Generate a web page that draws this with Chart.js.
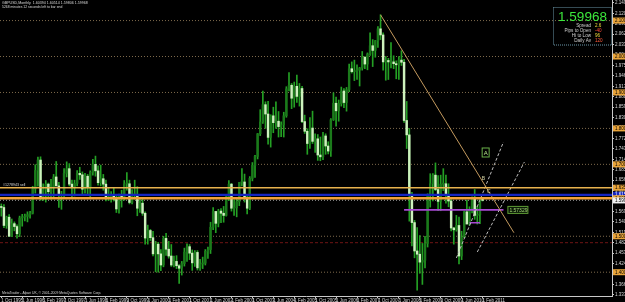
<!DOCTYPE html>
<html>
<head>
<meta charset="utf-8">
<script src="https://cdn.jsdelivr.net/npm/chart.js@4.4.1/dist/chart.umd.min.js"></script>
<style>
  html, body { margin: 0; padding: 0; background: #000; overflow: hidden; }
  canvas { display: block; }
</style>
</head>
<body>
<canvas id="chart" width="625" height="302"></canvas>
<script>
"use strict";

// GBPUSD monthly, Oct 1995 .. Feb 2011
const opens = [
  1.5810, 1.5800, 1.5300,
  1.5530, 1.5000, 1.5350, 1.5270, 1.5070, 1.5510, 1.5530, 1.5550, 1.5600, 1.5640, 1.6320, 1.6830,
  1.7120, 1.6100, 1.6300, 1.6450, 1.6240, 1.6380, 1.6650, 1.6400, 1.6130, 1.6150, 1.6750, 1.6880,
  1.6450, 1.6370, 1.6470, 1.6750, 1.6710, 1.6310, 1.6670, 1.6370, 1.6780, 1.7000, 1.6820, 1.6490,
  1.6600, 1.6450, 1.6040, 1.6100, 1.6110, 1.6030, 1.5760, 1.6150, 1.6080, 1.6460, 1.6460, 1.5940,
  1.6150, 1.6160, 1.5780, 1.5920, 1.5640, 1.4950, 1.5160, 1.4960, 1.4510, 1.4780, 1.4510, 1.4200,
  1.4940, 1.4640, 1.4450, 1.4200, 1.4300, 1.4180, 1.4110, 1.4240, 1.4560, 1.4710, 1.4530, 1.4260,
  1.4550, 1.4120, 1.4230, 1.4250, 1.4580, 1.4630, 1.5250, 1.5690, 1.5360, 1.5700, 1.5640, 1.5580,
  1.6100, 1.6450, 1.5780, 1.5790, 1.5960, 1.6500, 1.6510, 1.6070, 1.5780, 1.6610, 1.6970, 1.7220,
  1.7850, 1.8180, 1.8660, 1.8400, 1.7750, 1.8350, 1.8160, 1.8200, 1.8050, 1.8100, 1.8350, 1.9100,
  1.9200, 1.8840, 1.9170, 1.8890, 1.9110, 1.8190, 1.7920, 1.7580, 1.8010, 1.7640, 1.7710, 1.7260,
  1.7210, 1.7790, 1.7510, 1.7370, 1.8240, 1.8700, 1.8490, 1.8690, 1.9040, 1.8720, 1.9080, 1.9660,
  1.9580, 1.9600, 1.9620, 1.9680, 1.9980, 1.9790, 2.0070, 2.0300, 2.0170, 2.0440, 2.0770, 2.0600,
  1.9850, 1.9890, 1.9850, 1.9850, 1.9800, 1.9770, 1.9900, 1.9840, 1.8220, 1.7820, 1.6150, 1.5380,
  1.4590, 1.4500, 1.4280, 1.4330, 1.4800, 1.6150, 1.6460, 1.6700, 1.6300, 1.5970, 1.6450, 1.6460,
  1.6150, 1.5980, 1.5230, 1.5180, 1.5300, 1.4450, 1.4960, 1.5680, 1.5340, 1.5730, 1.6030, 1.5580,
  1.5600, 1.60394,
];

const highs = [
  1.5900, 1.5880, 1.5560,
  1.5600, 1.5480, 1.5400, 1.5320, 1.5560, 1.5610, 1.5620, 1.5680, 1.5690, 1.6390, 1.6990, 1.7200,
  1.7210, 1.6460, 1.6550, 1.6480, 1.6580, 1.6720, 1.7080, 1.6500, 1.6250, 1.6880, 1.7070, 1.7020,
  1.6560, 1.6560, 1.6830, 1.6920, 1.6790, 1.6750, 1.6720, 1.6820, 1.7140, 1.7230, 1.6960, 1.6980,
  1.6720, 1.6560, 1.6350, 1.6240, 1.6340, 1.6160, 1.6170, 1.6280, 1.6550, 1.6770, 1.6560, 1.6300,
  1.6560, 1.6380, 1.6030, 1.6080, 1.5680, 1.5310, 1.5190, 1.5140, 1.4860, 1.4830, 1.4630, 1.5000,
  1.5080, 1.4860, 1.4770, 1.4450, 1.4460, 1.4210, 1.4300, 1.4670, 1.4790, 1.4770, 1.4620, 1.4600,
  1.4600, 1.4360, 1.4420, 1.4630, 1.4700, 1.5390, 1.5800, 1.5690, 1.5750, 1.5770, 1.5830, 1.6130,
  1.6550, 1.6470, 1.6010, 1.6030, 1.6500, 1.6880, 1.6730, 1.6130, 1.6660, 1.7050, 1.7250, 1.7860,
  1.8520, 1.9040, 1.8740, 1.8750, 1.8380, 1.8590, 1.8740, 1.8470, 1.8180, 1.8450, 1.9160, 1.9550,
  1.9250, 1.9290, 1.9480, 1.9250, 1.9170, 1.8370, 1.7990, 1.8300, 1.8480, 1.7850, 1.7830, 1.7760,
  1.7890, 1.7850, 1.7630, 1.8270, 1.8990, 1.8870, 1.8790, 1.9150, 1.9110, 1.9140, 1.9790, 1.9850,
  1.9900, 1.9770, 1.9700, 2.0140, 2.0000, 2.0100, 2.0660, 2.0470, 2.0450, 2.0830, 2.1160, 2.0660,
  2.0000, 1.9950, 2.0390, 2.0020, 1.9880, 2.0000, 2.0160, 1.9920, 1.8750, 1.8000, 1.6220, 1.5440,
  1.5240, 1.5020, 1.4800, 1.5000, 1.6180, 1.6740, 1.6740, 1.7040, 1.6690, 1.6700, 1.6880, 1.6700,
  1.6460, 1.6020, 1.5250, 1.5580, 1.5530, 1.5140, 1.5700, 1.6000, 1.5820, 1.6100, 1.6300, 1.5820,
  1.6060, 1.60514,
];

const lows = [
  1.5560, 1.5240, 1.5220,
  1.4990, 1.4990, 1.5150, 1.4950, 1.4990, 1.5280, 1.5430, 1.5400, 1.5500, 1.5620, 1.6200, 1.6390,
  1.6000, 1.6000, 1.5950, 1.6050, 1.6030, 1.6100, 1.6400, 1.5800, 1.5750, 1.6050, 1.6650, 1.6400,
  1.6080, 1.6120, 1.6400, 1.6580, 1.6150, 1.6200, 1.6180, 1.6050, 1.6700, 1.6670, 1.6420, 1.6400,
  1.6280, 1.5980, 1.5990, 1.5950, 1.5980, 1.5660, 1.5640, 1.5810, 1.6000, 1.6280, 1.5900, 1.5900,
  1.6030, 1.5570, 1.5660, 1.5580, 1.4780, 1.4780, 1.4880, 1.4450, 1.4010, 1.4000, 1.4040, 1.4150,
  1.4470, 1.4390, 1.4160, 1.4150, 1.4100, 1.3690, 1.3920, 1.4170, 1.4300, 1.4350, 1.4050, 1.4160,
  1.4060, 1.4050, 1.4100, 1.4200, 1.4380, 1.4520, 1.5180, 1.5100, 1.5260, 1.5380, 1.5390, 1.5560,
  1.5990, 1.5700, 1.5580, 1.5540, 1.5850, 1.6400, 1.5950, 1.5620, 1.5740, 1.6540, 1.6640, 1.7150,
  1.7800, 1.8140, 1.8000, 1.7560, 1.7480, 1.7880, 1.8000, 1.7760, 1.7770, 1.7760, 1.8310, 1.9040,
  1.8550, 1.8590, 1.8720, 1.8620, 1.8160, 1.7860, 1.7280, 1.7440, 1.7580, 1.7330, 1.7110, 1.7100,
  1.7130, 1.7280, 1.7290, 1.7220, 1.8220, 1.8060, 1.8200, 1.8620, 1.8580, 1.8480, 1.9020, 1.9540,
  1.9330, 1.9360, 1.9180, 1.9620, 1.9660, 1.9630, 2.0030, 1.9720, 1.9980, 2.0250, 2.0470, 1.9620,
  1.9340, 1.9360, 1.9680, 1.9660, 1.9380, 1.9360, 1.9750, 1.8170, 1.7440, 1.5420, 1.4730, 1.4400,
  1.3500, 1.3970, 1.3660, 1.4120, 1.4700, 1.5810, 1.5980, 1.6270, 1.5710, 1.5710, 1.6270, 1.5920,
  1.5820, 1.5150, 1.4780, 1.5140, 1.4230, 1.4350, 1.4960, 1.5340, 1.5300, 1.5650, 1.5470, 1.5340,
  1.5350, 1.59806,
];

const closes = [
  1.5800, 1.5300, 1.5530,
  1.5000, 1.5350, 1.5270, 1.5070, 1.5510, 1.5530, 1.5550, 1.5600, 1.5640, 1.6320, 1.6830, 1.7120,
  1.6100, 1.6300, 1.6450, 1.6240, 1.6380, 1.6650, 1.6400, 1.6130, 1.6150, 1.6750, 1.6880, 1.6450,
  1.6370, 1.6470, 1.6750, 1.6710, 1.6310, 1.6670, 1.6370, 1.6780, 1.7000, 1.6820, 1.6490, 1.6600,
  1.6450, 1.6040, 1.6100, 1.6110, 1.6030, 1.5760, 1.6150, 1.6080, 1.6460, 1.6460, 1.5940, 1.6150,
  1.6160, 1.5780, 1.5920, 1.5640, 1.4950, 1.5160, 1.4960, 1.4510, 1.4780, 1.4510, 1.4200, 1.4940,
  1.4640, 1.4450, 1.4200, 1.4300, 1.4180, 1.4110, 1.4240, 1.4560, 1.4710, 1.4530, 1.4260, 1.4550,
  1.4120, 1.4230, 1.4250, 1.4580, 1.4630, 1.5250, 1.5690, 1.5360, 1.5700, 1.5640, 1.5580, 1.6100,
  1.6450, 1.5780, 1.5790, 1.5960, 1.6500, 1.6510, 1.6070, 1.5780, 1.6610, 1.6970, 1.7220, 1.7850,
  1.8180, 1.8660, 1.8400, 1.7750, 1.8350, 1.8160, 1.8200, 1.8050, 1.8100, 1.8350, 1.9100, 1.9200,
  1.8840, 1.9170, 1.8890, 1.9110, 1.8190, 1.7920, 1.7580, 1.8010, 1.7640, 1.7710, 1.7260, 1.7210,
  1.7790, 1.7510, 1.7370, 1.8240, 1.8700, 1.8490, 1.8690, 1.9040, 1.8720, 1.9080, 1.9660, 1.9580,
  1.9600, 1.9620, 1.9680, 1.9980, 1.9790, 2.0070, 2.0300, 2.0170, 2.0440, 2.0770, 2.0600, 1.9850,
  1.9890, 1.9850, 1.9850, 1.9800, 1.9770, 1.9900, 1.9840, 1.8220, 1.7820, 1.6150, 1.5380, 1.4590,
  1.4500, 1.4280, 1.4330, 1.4800, 1.6150, 1.6460, 1.6700, 1.6300, 1.5970, 1.6450, 1.6460, 1.6150,
  1.5980, 1.5230, 1.5180, 1.5300, 1.4450, 1.4960, 1.5680, 1.5340, 1.5730, 1.6030, 1.5580, 1.5600,
  1.6025, 1.59968,
];

// right price axis tick labels
const priceTicks = [
  2.1490, 2.1200, 2.0910, 2.0620, 2.0330, 2.0040, 1.9750, 1.9460, 1.9170, 1.8880,
  1.8590, 1.8300, 1.8010, 1.7720, 1.7430, 1.7140, 1.6850, 1.6560, 1.6270, 1.5980,
  1.5690, 1.5400, 1.5110, 1.4820, 1.4530, 1.4240, 1.3950, 1.3660, 1.3370,
];

const dateTickLabels = [
  "1 Oct 1995", "1 Jun 1996", "1 Feb 1997", "1 Oct 1997", "1 Jun 1998", "1 Feb 1999",
  "1 Oct 1999", "1 Jun 2000", "1 Feb 2001", "1 Oct 2001", "1 Jun 2002", "1 Feb 2003",
  "1 Oct 2003", "1 Jun 2004", "1 Feb 2005", "1 Oct 2005", "1 Jun 2006", "1 Feb 2007",
  "1 Oct 2007", "1 Jun 2008", "1 Feb 2009", "1 Oct 2009", "1 Jun 2010", "1 Feb 2011",
];

// horizontal objects
const gridLevels = [2.1, 2.0, 1.9, 1.8, 1.7, 1.6, 1.5, 1.4];
const orderLevels = [1.6350, 1.6153, 1.6058];
const redLevel = 1.4821;
const currentPrice = 1.59968;

// drawn lines: [month, price] pairs
const trendLine = [["Nov 2007", 2.1160], ["Feb 2012", 1.5099]];
const channelUpper = [["Apr 2010", 1.4395], ["Oct 2011", 1.7622]];
const channelLower = [["Dec 2010", 1.4562], ["Jun 2012", 1.7065]];
const purpleLine = [["Aug 2008", 1.57329], ["Oct 2011", 1.57329]];
const purpleShort = [["Sep 2010", 1.5377], ["Jan 2011", 1.5377]];

const infoRows = [["Spread", "2.6"], ["Pips to Open", "-40"], ["Hi to Low", "96"], ["Daily Av", "120"]];

const MONTH_NAMES = ["Jan", "Feb", "Mar", "Apr", "May", "Jun", "Jul", "Aug", "Sep", "Oct", "Nov", "Dec"];
const SLOTS = 234;
const months = [];
for (let k = 0; k < SLOTS; k++) {
  const m = 9 + k;
  months.push(`${MONTH_NAMES[m % 12]} ${1995 + Math.floor(m / 12)}`);
}

const isBull = (i) => closes[i] >= opens[i];
const toPoints = (pairs) => pairs.map(([x, y]) => ({ x, y }));

function lineDataset(pairs, color, width, dash) {
  return {
    type: "line",
    data: toPoints(pairs),
    borderColor: color,
    borderWidth: width,
    borderDash: dash || [],
    pointRadius: 0,
    tension: 0,
    order: 0,
  };
}

function hline(ctx, area, y, color, width, dash) {
  ctx.save();
  ctx.strokeStyle = color;
  ctx.lineWidth = width;
  ctx.setLineDash(dash || []);
  ctx.beginPath();
  ctx.moveTo(area.left, y);
  ctx.lineTo(area.right, y);
  ctx.stroke();
  ctx.restore();
}

function axisTag(ctx, x, y, text, bg, fg) {
  ctx.fillStyle = bg;
  ctx.fillRect(x, y - 3, 20, 6);
  ctx.fillStyle = fg;
  ctx.font = "4.5px 'Liberation Sans'";
  ctx.textAlign = "left";
  ctx.textBaseline = "middle";
  ctx.fillText(text, x + 2, y + 0.3);
}

const overlay = {
  id: "overlay",
  beforeDraw(chart) {
    const { ctx, width, height } = chart;
    ctx.save();
    ctx.fillStyle = "#000";
    ctx.fillRect(0, 0, width, height);
    ctx.restore();
  },
  beforeDatasetsDraw(chart) {
    const { ctx, chartArea, scales } = chart;
    for (const level of gridLevels) {
      const color = level === 1.6 ? "#9a9a9a" : "#7e6a4c";
      hline(ctx, chartArea, scales.y.getPixelForValue(level), color, 1, [1, 2]);
    }
    hline(ctx, chartArea, scales.y.getPixelForValue(redLevel), "#6e1414", 1, [3, 2]);
  },
  afterDatasetsDraw(chart) {
    const { ctx, chartArea, scales } = chart;
    const styles = [["#e8b24e", 1.4], ["#1424c0", 2.3], ["#f2a23a", 2.6]];
    orderLevels.forEach((level, i) => {
      hline(ctx, chartArea, scales.y.getPixelForValue(level), styles[i][0], styles[i][1]);
    });
  },
  afterDraw(chart) {
    const { ctx, chartArea, scales } = chart;
    const x = scales.x;
    const y = scales.y;
    const axisX = chartArea.right + 1;
    ctx.save();

    // price tags on the right axis
    for (const level of gridLevels) {
      if (level === 1.6) continue;
      axisTag(ctx, axisX, y.getPixelForValue(level), level.toFixed(5), "#e9a43a", "#000");
    }
    axisTag(ctx, axisX, y.getPixelForValue(orderLevels[0]), orderLevels[0].toFixed(5), "#e9a43a", "#000");
    axisTag(ctx, axisX, y.getPixelForValue(orderLevels[1]), orderLevels[1].toFixed(5), "#1424c0", "#fff");
    axisTag(ctx, axisX, y.getPixelForValue(orderLevels[2]), orderLevels[2].toFixed(5), "#e9a43a", "#000");
    axisTag(ctx, axisX, y.getPixelForValue(currentPrice), currentPrice.toFixed(5), "#f0f0f0", "#000");

    // header / footer texts
    ctx.fillStyle = "#d8d8d8";
    ctx.textAlign = "left";
    ctx.textBaseline = "alphabetic";
    ctx.font = "3.6px 'Liberation Sans'";
    ctx.fillText("GBPUSD,Monthly  1.60394 1.60514 1.59806 1.59968", 2, 4.4);
    ctx.font = "3.4px 'Liberation Sans'";
    ctx.fillText("5268 minutes 12 seconds left to bar end", 2, 8);
    ctx.fillText("MetaTrader - Alpari UK, \u00a9 2001-2009 MetaQuotes Software Corp.", 2, 294.3);
    ctx.font = "3.6px 'Liberation Sans'";
    ctx.fillText("#1278943 sell", 3, y.getPixelForValue(orderLevels[0]) - 1.5);

    // purple level tag
    const py = y.getPixelForValue(purpleLine[0][1]);
    const px = x.getPixelForValue(months.indexOf("Dec 2011")) - 1.3;
    ctx.fillStyle = "#0a1a06";
    ctx.fillRect(px, py - 3.5, 20, 7);
    ctx.strokeStyle = "#5e9c34";
    ctx.lineWidth = 1;
    ctx.strokeRect(px + 0.5, py - 3.5, 20, 7);
    ctx.fillStyle = "#a8d878";
    ctx.font = "5px 'Liberation Sans'";
    ctx.textBaseline = "middle";
    ctx.fillText(purpleLine[0][1].toFixed(5), px + 2, py + 0.3);

    // wave labels
    const ax = x.getPixelForValue(months.indexOf("Mar 2011"));
    const ay = y.getPixelForValue(1.733);
    ctx.strokeStyle = "#6ab04a";
    ctx.strokeRect(ax - 3, ay - 4.5, 7, 9);
    ctx.fillStyle = "#b8e890";
    ctx.font = "6px 'Liberation Sans'";
    ctx.textAlign = "center";
    ctx.fillText("A", ax + 0.5, ay + 0.5);
    ctx.fillStyle = "#d8d8a8";
    ctx.font = "5px 'Liberation Sans'";
    ctx.fillText("B", x.getPixelForValue(months.indexOf("Feb 2011")) + 1, y.getPixelForValue(1.659));
    ctx.fillText("C", x.getPixelForValue(months.indexOf("Apr 2011")) + 1, y.getPixelForValue(1.624));

    // info panel
    ctx.setLineDash([1, 1]);
    ctx.strokeStyle = "#6a96a8";
    ctx.strokeRect(553.5, 7.5, 58, 37.5);
    ctx.setLineDash([]);
    ctx.fillStyle = "#3ce83c";
    ctx.font = "13.5px 'Liberation Sans'";
    ctx.textAlign = "center";
    ctx.textBaseline = "alphabetic";
    ctx.fillText(currentPrice.toFixed(5), 582.5, 21);
    const valueColors = ["#f0dc3c", "#ff4a3a", "#f0dc3c", "#ff5a3a"];
    ctx.font = "4.6px 'Liberation Sans'";
    infoRows.forEach(([label, value], i) => {
      const by = 26.8 + i * 4.9;
      ctx.textAlign = "right";
      ctx.fillStyle = "#cfcfcf";
      ctx.fillText(label, 591, by);
      ctx.textAlign = "left";
      ctx.fillStyle = valueColors[i];
      ctx.fillText(value, 595, by);
    });
    ctx.restore();
  },
};

Chart.defaults.font.family = "'Liberation Sans', Arial, sans-serif";

new Chart(document.getElementById("chart"), {
  type: "bar",
  data: {
    labels: months,
    datasets: [
      lineDataset(trendLine, "#c49a5e", 1),
      lineDataset(channelUpper, "#bdbdbd", 1, [3, 2]),
      lineDataset(channelLower, "#bdbdbd", 1, [3, 2]),
      lineDataset(purpleLine, "#a848d4", 1.6),
      lineDataset(purpleShort, "#a848d4", 1.6),
      {
        label: "body",
        data: opens.map((o, i) => [Math.min(o, closes[i]), Math.max(o, closes[i])]),
        backgroundColor: (c) => (isBull(c.dataIndex) ? "#1b7a1b" : "#cdf2bd"),
        barThickness: 1.8,
        minBarLength: 1,
        grouped: false,
        order: 1,
      },
      {
        label: "wick",
        data: lows.map((l, i) => [l, highs[i]]),
        backgroundColor: "#24a024",
        barThickness: 1,
        grouped: false,
        order: 2,
      },
    ],
  },
  options: {
    responsive: false,
    animation: false,
    events: [],
    layout: { padding: 0 },
    plugins: { legend: { display: false }, tooltip: { enabled: false } },
    scales: {
      x: {
        type: "category",
        offset: true,
        border: { display: true, color: "#c8c8c8" },
        grid: {
          drawOnChartArea: false,
          drawTicks: true,
          tickLength: 2,
          offset: false,
          color: (c) => (c.tick && c.tick.label ? "#c8c8c8" : "rgba(0,0,0,0)"),
        },
        ticks: {
          autoSkip: false,
          maxRotation: 0,
          minRotation: 0,
          align: "start",
          padding: 0,
          color: "#d8d8d8",
          font: { size: 4.5 },
          callback: (value, index) => {
            const text = `1 ${months[index]}`;
            return dateTickLabels.includes(text) ? text : "";
          },
        },
        afterFit: (scale) => {
          scale.height = 6;
          scale.paddingLeft = 0;
          scale.paddingRight = 0;
        },
      },
      y: {
        position: "right",
        min: 1.3338,
        max: 2.1572,
        border: { display: true, color: "#c8c8c8" },
        grid: { drawOnChartArea: false, drawTicks: true, tickLength: 2, color: "#c8c8c8" },
        ticks: {
          autoSkip: false,
          padding: 1,
          color: "#d8d8d8",
          font: { size: 4.5 },
          callback: (value) => Number(value).toFixed(5),
        },
        afterBuildTicks: (scale) => {
          scale.ticks = priceTicks.map((value) => ({ value }));
        },
        afterFit: (scale) => {
          scale.width = 13;
          scale.paddingTop = 0;
          scale.paddingBottom = 0;
        },
      },
    },
  },
  plugins: [overlay],
});
</script>
</body>
</html>
